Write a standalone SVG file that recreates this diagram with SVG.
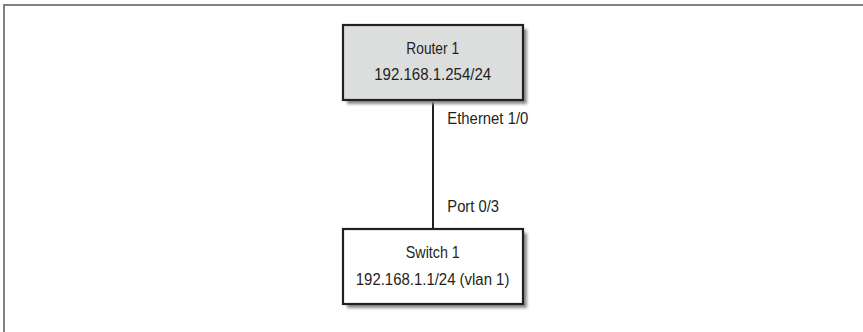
<svg xmlns="http://www.w3.org/2000/svg" width="863" height="332" viewBox="0 0 863 332">
  <style>
    .frame { stroke: #808080; stroke-width: 2; fill: none; }
    .box { stroke: #231f20; stroke-width: 2.2; }
    .router { fill: #dcdddd; }
    .switch { fill: #ffffff; }
    .shadow { fill: #8a8a8a; filter: url(#soft); }
    .link { stroke: #231f20; stroke-width: 2; fill: none; }
    text { font-family: "Liberation Sans", Arial, sans-serif; font-size: 17.3px; fill: #231f20; }
    .mid { text-anchor: middle; }
  </style>
  <defs>
    <filter id="soft" x="-10%" y="-20%" width="120%" height="140%">
      <feGaussianBlur stdDeviation="1.6"/>
    </filter>
  </defs>
  <rect width="863" height="332" fill="#ffffff"/>
  <!-- page frame: top and left rules only -->
  <path class="frame" d="M4 332 V5 H863"/>

  <g id="connectors">
    <line class="link" x1="433" y1="100" x2="433" y2="229"/>
    <text x="447.3" y="124" textLength="81" lengthAdjust="spacingAndGlyphs">Ethernet 1/0</text>
    <text x="447.3" y="212" textLength="51.7" lengthAdjust="spacingAndGlyphs">Port 0/3</text>
  </g>

  <g id="router1">
    <rect class="shadow" x="347" y="29" width="180" height="75"/>
    <rect class="box router" x="343" y="25" width="180" height="75"/>
    <text class="mid" x="432.7" y="54.3" textLength="52.7" lengthAdjust="spacingAndGlyphs">Router 1</text>
    <text class="mid" x="432.7" y="79.5" textLength="117" lengthAdjust="spacingAndGlyphs">192.168.1.254/24</text>
  </g>

  <g id="switch1">
    <rect class="shadow" x="347" y="233" width="180" height="75"/>
    <rect class="box switch" x="343" y="229" width="180" height="75"/>
    <text class="mid" x="432.8" y="258.3" textLength="54" lengthAdjust="spacingAndGlyphs">Switch 1</text>
    <text class="mid" x="432.6" y="285" textLength="153.6" lengthAdjust="spacingAndGlyphs">192.168.1.1/24 (vlan 1)</text>
  </g>
</svg>
